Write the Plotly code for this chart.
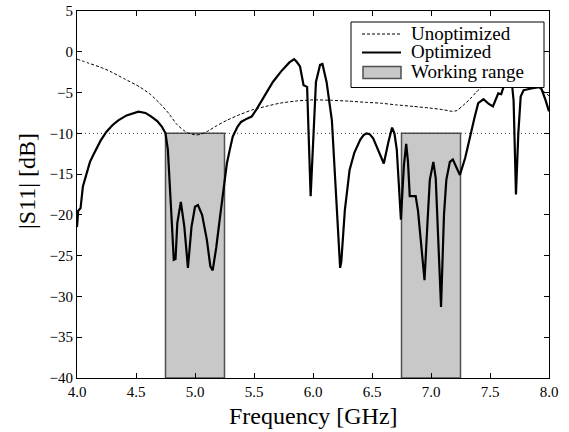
import plotly.graph_objects as go

# ---------------- data ----------------
freq_opt = [4.00, 4.01, 4.03, 4.05, 4.08, 4.11, 4.14, 4.16, 4.20, 4.25, 4.30, 4.35, 4.42, 4.52,
            4.58, 4.63, 4.68, 4.72, 4.75, 4.77, 4.785, 4.80, 4.82, 4.835, 4.85, 4.88, 4.91, 4.94,
            4.97, 5.00, 5.025, 5.06, 5.10, 5.13, 5.15, 5.18, 5.21, 5.24, 5.27, 5.295, 5.32, 5.36,
            5.39, 5.44, 5.48, 5.52, 5.58, 5.66, 5.73, 5.78, 5.80, 5.84, 5.86, 5.89, 5.92, 5.95,
            5.98, 6.025, 6.06, 6.08, 6.115, 6.16, 6.20, 6.23, 6.24, 6.27, 6.31, 6.33, 6.35, 6.40,
            6.43, 6.455, 6.48, 6.51, 6.55, 6.60, 6.64, 6.67, 6.69, 6.71, 6.745, 6.77, 6.79, 6.805,
            6.82, 6.87, 6.89, 6.945, 6.97, 6.99, 7.02, 7.04, 7.085, 7.11, 7.13, 7.16, 7.185, 7.21,
            7.245, 7.29, 7.33, 7.37, 7.40, 7.445, 7.49, 7.525, 7.57, 7.595, 7.615, 7.65, 7.68,
            7.70, 7.72, 7.74, 7.76, 7.785, 7.85, 7.93, 7.97, 8.00]
s11_opt = [-21.5, -19.5, -19.2, -16.5, -15.0, -13.5, -12.6, -12.0, -10.9, -9.8, -9.0, -8.4, -7.8, -7.35,
           -7.5, -7.95, -8.5, -9.2, -10.0, -12.0, -15.3, -20.0, -25.5, -25.4, -21.0, -18.4, -21.5, -26.5,
           -21.5, -19.0, -18.8, -20.0, -23.0, -26.3, -26.8, -24.0, -20.5, -17.4, -13.7, -12.0, -10.4, -9.2,
           -8.6, -8.2, -7.95, -7.1, -5.7, -3.7, -2.4, -1.6, -1.3, -0.9, -1.2, -1.8, -4.1, -4.3,
           -17.7, -3.7, -1.6, -1.5, -3.7, -8.4, -18.2, -26.5, -25.7, -19.4, -14.5, -13.5, -12.4, -10.8,
           -10.2, -10.0, -10.1, -10.6, -12.0, -13.7, -11.0, -9.3, -10.0, -12.0, -20.6, -14.0, -11.3, -13.5,
           -17.7, -17.7, -19.5, -28.0, -21.0, -15.7, -13.5, -15.5, -31.3, -20.0, -15.7, -13.5, -13.2, -14.0,
           -15.1, -13.0, -10.3, -8.0, -6.3, -5.8, -6.4, -6.7, -5.1, -5.2, -4.3, -3.2, -3.0,
           -6.0, -17.5, -10.0, -5.5, -4.7, -4.5, -4.3, -5.9, -7.3]

freq_unopt = [4.00, 4.10, 4.20, 4.28, 4.40, 4.53, 4.62, 4.70, 4.78, 4.84, 4.90, 4.95, 5.01, 5.05,
              5.10, 5.18, 5.27, 5.38, 5.49, 5.60, 5.72, 5.85, 6.00, 6.15, 6.30, 6.45, 6.57, 6.70,
              6.85, 6.99, 7.10, 7.18, 7.22, 7.27, 7.33, 7.38, 7.43, 7.50, 7.60, 7.70, 7.80, 7.88,
              7.93, 8.00]
s11_unopt = [-0.9, -1.4, -1.9, -2.4, -3.3, -4.3, -5.2, -6.3, -7.6, -8.8, -9.6, -10.0, -10.2, -10.1,
             -9.8, -9.1, -8.4, -7.7, -7.1, -6.7, -6.3, -6.05, -5.9, -5.95, -6.05, -6.2, -6.3, -6.5,
             -6.7, -6.9, -7.1, -7.3, -7.2, -6.6, -5.8, -5.0, -4.3, -3.5, -3.0, -3.0, -3.5, -4.2,
             -4.6, -5.4]

working_ranges = [(4.75, 5.25), (6.75, 7.25)]
threshold_db = -10
floor_db = -40

x_ticks = [4.0, 4.5, 5.0, 5.5, 6.0, 6.5, 7.0, 7.5, 8.0]
y_ticks = [5, 0, -5, -10, -15, -20, -25, -30, -35, -40]

legend_labels = ["Unoptimized", "Optimized", "Working range"]
x_title = "Frequency [GHz]"
y_title = "|S11| [dB]"

FONT = "Liberation Serif, Times New Roman, serif"
W, H = 569, 432
ML, MR, MT, MB = 77, 20, 11, 54
PW, PH = W - ML - MR, H - MT - MB


def px(xp):
    """pixel x -> paper x"""
    return (xp - ML) / PW


def py(yp):
    """pixel y (from top) -> paper y"""
    return (H - MB - yp) / PH


# ---------------- figure ----------------
fig = go.Figure()

# working-range rectangles
rx, ry = [], []
for lo, hi in working_ranges:
    rx += [lo, lo, hi, hi, lo, None]
    ry += [floor_db, threshold_db, threshold_db, floor_db, floor_db, None]
fig.add_trace(go.Scatter(x=rx, y=ry, mode="lines", fill="toself", fillcolor="#c8c8c8",
                         line=dict(color="#505050", width=1.5), name=legend_labels[2],
                         showlegend=False, hoverinfo="skip"))

# threshold dotted line
fig.add_trace(go.Scatter(x=[x_ticks[0], x_ticks[-1]], y=[threshold_db, threshold_db], mode="lines",
                         line=dict(color="#333333", width=1, dash="1px,3px"), showlegend=False,
                         hoverinfo="skip"))

fig.add_trace(go.Scatter(x=freq_unopt, y=s11_unopt, mode="lines", name=legend_labels[0],
                         line=dict(color="black", width=1, dash="3px,2px", shape="spline",
                                   smoothing=0.6),
                         showlegend=False))
fig.add_trace(go.Scatter(x=freq_opt, y=s11_opt, mode="lines", name=legend_labels[1],
                         line=dict(color="black", width=2.2), showlegend=False))

axis_common = dict(showline=True, linecolor="black", linewidth=1, mirror="ticks",
                   ticks="inside", ticklen=5, tickcolor="black", showgrid=False, zeroline=False,
                   automargin=False,
                   tickfont=dict(family=FONT, size=15, color="black"))

fig.update_xaxes(range=[4.0, 8.0], tickvals=x_ticks, ticktext=[f"{v:.1f}" for v in x_ticks],
                 **axis_common)
fig.update_yaxes(range=[-40, 5], tickvals=y_ticks,
                 ticktext=[str(v).replace("-", "\u2212") for v in y_ticks],
                 **axis_common)

# ---------- legend box (drawn by hand to match the compact spacing) ----------
shapes = []
annotations = []
box_l, box_r, box_t, box_b = 351, 544, 22, 87.5
shapes.append(dict(type="rect", xref="paper", yref="paper",
                   x0=px(box_l), x1=px(box_r), y0=py(box_b), y1=py(box_t),
                   line=dict(color="black", width=1), fillcolor="white", layer="above"))
row_y = [34, 52.5, 72.5]
samp_l, samp_r, text_x = 362, 401, 409
shapes.append(dict(type="line", xref="paper", yref="paper", x0=px(samp_l), x1=px(samp_r),
                   y0=py(row_y[0]), y1=py(row_y[0]),
                   line=dict(color="black", width=1, dash="3px,2px"), layer="above"))
shapes.append(dict(type="line", xref="paper", yref="paper", x0=px(samp_l), x1=px(samp_r),
                   y0=py(row_y[1]), y1=py(row_y[1]),
                   line=dict(color="black", width=2.2), layer="above"))
shapes.append(dict(type="rect", xref="paper", yref="paper", x0=px(samp_l + 1), x1=px(samp_r),
                   y0=py(row_y[2] + 6), y1=py(row_y[2] - 6),
                   line=dict(color="#505050", width=1.5), fillcolor="#c8c8c8", layer="above"))
for lab, ry_ in zip(legend_labels, row_y):
    annotations.append(dict(text=lab, xref="paper", yref="paper", x=px(text_x), y=py(ry_ - 1),
                            xanchor="left", yanchor="middle", showarrow=False,
                            font=dict(family=FONT, size=19, color="black")))

# ---------- axis titles ----------
annotations.append(dict(text=x_title, xref="paper", yref="paper", x=0.5, y=py(416),
                        xanchor="center", yanchor="middle", showarrow=False,
                        font=dict(family=FONT, size=24, color="black")))
annotations.append(dict(text=y_title, xref="paper", yref="paper", x=px(27), y=py(181),
                        xanchor="center", yanchor="middle", showarrow=False, textangle=-90,
                        font=dict(family=FONT, size=24, color="black")))

fig.update_layout(
    template="none",
    width=W, height=H,
    margin=dict(l=ML, r=MR, t=MT, b=MB, pad=0),
    paper_bgcolor="white", plot_bgcolor="white",
    font=dict(family=FONT, color="black"),
    showlegend=False,
    shapes=shapes,
    annotations=annotations,
)

fig.write_html("out.html", config={"displayModeBar": False},
               post_script="document.body.style.margin='0';")
